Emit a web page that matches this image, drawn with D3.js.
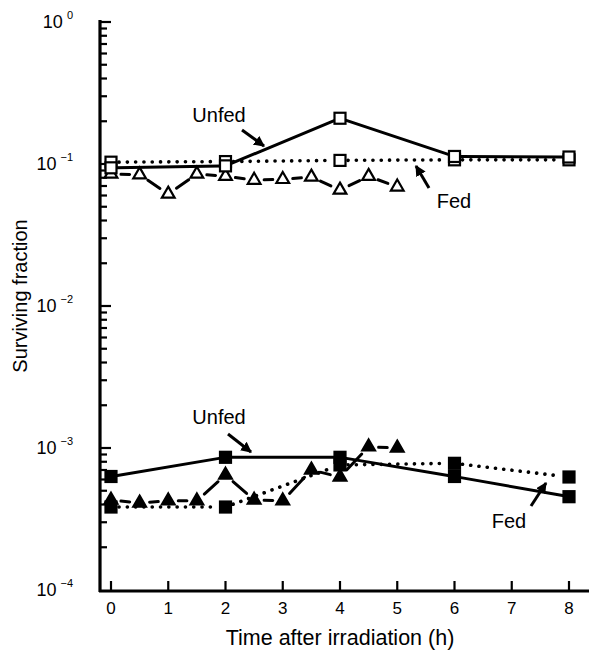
<!DOCTYPE html>
<html><head><meta charset="utf-8">
<script src="https://cdn.jsdelivr.net/npm/d3@7"></script>
<style>body{margin:0;background:#fff}svg{display:block}text{font-family:"Liberation Sans",Arial,sans-serif;fill:#000}</style>
</head><body><svg id="c" width="589" height="651"></svg>
<script>
// ---- data ----
const hoursSq = [0, 2, 4, 6, 8];
const hoursTri = [0, 0.5, 1, 1.5, 2, 2.5, 3, 3.5, 4, 4.5, 5];
const unfedOpen = [0.094, 0.097, 0.21, 0.113, 0.112];
const fedOpen = [0.103, 0.104, 0.106, 0.107, 0.107];
const triOpen = [0.085, 0.084, 0.0615, 0.085, 0.082, 0.077, 0.078, 0.081, 0.0656, 0.082, 0.069];
const unfedFilled = [0.00063, 0.00086, 0.00086, 0.00063, 0.000454];
const fedFilled = [0.000384, 0.000384, 0.00076, 0.00078, 0.000625];
const triFilled = [0.00043, 0.00041, 0.000425, 0.000425, 0.000645, 0.00043, 0.000425, 0.0007, 0.000625, 0.00102, 0.001];
const xTicks = [0, 1, 2, 3, 4, 5, 6, 7, 8];
const yExps = [0, -1, -2, -3, -4];

const svg = d3.select("#c");
const x = d3.scaleLinear().domain([0, 8]).range([111, 569]);
const y = d3.scaleLog().domain([1e-4, 1]).range([590, 22]);

// axes
const g = svg.append("g");
g.append("line").attr("x1", 100).attr("x2", 100).attr("y1", 20).attr("y2", 592).attr("stroke", "#000").attr("stroke-width", 3.2);
g.append("line").attr("x1", 99).attr("x2", 589).attr("y1", 591).attr("y2", 591).attr("stroke", "#000").attr("stroke-width", 3.2);
const yTickVals = [];
for (let e = -4; e <= 0; e++) for (let m = 1; m <= 9; m++) { const v = m * Math.pow(10, e); if (v <= 1 && v > 1e-4) yTickVals.push({v, major: m === 1}); }
g.selectAll(".yt").data(yTickVals).join("line").attr("x1", 100).attr("x2", d => d.major ? 111 : 107)
  .attr("y1", d => y(d.v)).attr("y2", d => y(d.v)).attr("stroke", "#000").attr("stroke-width", 2.2);
g.selectAll(".xt").data(xTicks).join("line").attr("x1", d => x(d)).attr("x2", d => x(d)).attr("y1", 591).attr("y2", 581)
  .attr("stroke", "#000").attr("stroke-width", 2.2);
g.selectAll(".xl").data(xTicks).join("text").attr("x", d => x(d)).attr("y", 614).attr("text-anchor", "middle")
  .attr("font-size", 17).text(d => d);
const yl = g.selectAll(".yl").data(yExps).join("text").attr("x", 73).attr("y", d => y(Math.pow(10, d)) + 6)
  .attr("text-anchor", "end").attr("font-size", 18);
yl.append("tspan").text("10");
yl.append("tspan").attr("dx", 4).attr("dy", -9).attr("font-size", 11).text(d => d === 0 ? "0" : "\u2212" + (-d));
svg.append("text").attr("transform", "translate(27,296) rotate(-90)").attr("text-anchor", "middle").attr("font-size", 20).text("Surviving fraction");
svg.append("text").attr("x", 340).attr("y", 645).attr("text-anchor", "middle").attr("font-size", 21.5).text("Time after irradiation (h)");

// helpers
function seg(xs, ys, gap, dash) {
  const gg = svg.append("g");
  for (let i = 0; i < xs.length - 1; i++) {
    const x1 = x(xs[i]), y1 = y(ys[i]), x2 = x(xs[i + 1]), y2 = y(ys[i + 1]);
    const L = Math.hypot(x2 - x1, y2 - y1), ux = (x2 - x1) / L, uy = (y2 - y1) / L;
    gg.append("line").attr("x1", x1 + ux * gap).attr("y1", y1 + uy * gap).attr("x2", x2 - ux * gap).attr("y2", y2 - uy * gap)
      .attr("stroke", "#000").attr("stroke-width", dash === "dot" ? 3.6 : 3)
      .attr("stroke-linecap", "round")
      .attr("stroke-dasharray", dash === "dot" ? "0.1,8.2" : null);
  }
}
function squares(xs, ys, filled) {
  svg.append("g").selectAll("rect").data(xs.map((d, i) => [d, ys[i]])).join("rect")
    .attr("x", d => x(d[0]) - 5.5).attr("y", d => y(d[1]) - 5.5).attr("width", 11).attr("height", 11)
    .attr("fill", filled ? "#000" : "#fff").attr("stroke", "#000").attr("stroke-width", 2.2);
}
const tri = d3.symbol().type(d3.symbolTriangle).size(70);
function triangles(xs, ys, filled) {
  svg.append("g").selectAll("path").data(xs.map((d, i) => [d, ys[i]])).join("path")
    .attr("d", tri).attr("transform", d => `translate(${x(d[0])},${y(d[1])})`)
    .attr("fill", filled ? "#000" : "#fff").attr("stroke", "#000").attr("stroke-width", 2.2).attr("stroke-linejoin", "miter");
}

// top group
seg(hoursTri, triOpen, 10, "solid");
seg(hoursSq, fedOpen, 8, "dot");
seg(hoursSq, unfedOpen, 5, "solid");
triangles(hoursTri, triOpen, false);
squares(hoursSq, fedOpen, false);
squares(hoursSq, unfedOpen, false);
// bottom group
seg(hoursTri, triFilled, 10, "solid");
seg(hoursSq, fedFilled, 8, "dot");
seg(hoursSq, unfedFilled, 5, "solid");
triangles(hoursTri, triFilled, true);
squares(hoursSq, fedFilled, true);
squares(hoursSq, unfedFilled, true);

// annotations
const defs = svg.append("defs");
defs.append("marker").attr("id", "ah").attr("viewBox", "0 0 10 10").attr("refX", 9).attr("refY", 5)
  .attr("markerWidth", 3.6).attr("markerHeight", 3.6).attr("orient", "auto")
  .append("path").attr("d", "M0,0 L10,5 L0,10 z").attr("fill", "#000");
const notes = [
  {t: "Unfed", tx: 219, ty: 122, a: [242, 130, 264, 146]},
  {t: "Fed", tx: 454, ty: 208, a: [429, 188, 416, 166]},
  {t: "Unfed", tx: 219, ty: 424, a: [228, 434, 251, 452]},
  {t: "Fed", tx: 509, ty: 528, a: [531, 506, 546, 483]}
];
notes.forEach(n => {
  svg.append("text").attr("x", n.tx).attr("y", n.ty).attr("text-anchor", "middle").attr("font-size", 20).text(n.t);
  svg.append("line").attr("x1", n.a[0]).attr("y1", n.a[1]).attr("x2", n.a[2]).attr("y2", n.a[3])
    .attr("stroke", "#000").attr("stroke-width", 3).attr("marker-end", "url(#ah)");
});
</script></body></html>
